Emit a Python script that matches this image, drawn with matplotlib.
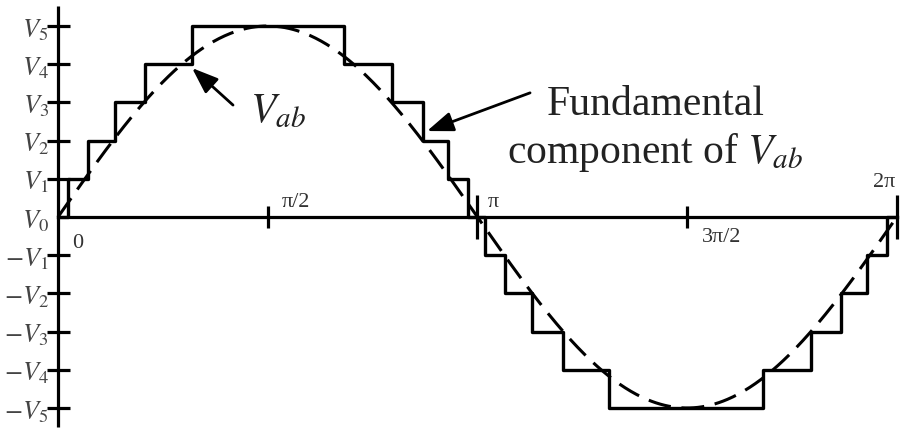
import numpy as np
import matplotlib
matplotlib.use("Agg")
import matplotlib.pyplot as plt

plt.rcParams['font.family'] = ['Liberation Serif', 'DejaVu Serif']
plt.rcParams['mathtext.fontset'] = 'stix'

edges = [0.075, 0.225, 0.427, 0.652, 1.004,
         2.142, 2.502, 2.734, 2.921, 3.071,
         3.199, 3.348, 3.551, 3.783, 4.127,
         5.281, 5.640, 5.865, 6.060, 6.210]
levels = [1, 2, 3, 4, 5,
          4, 3, 2, 1, 0,
          -1, -2, -3, -4, -5,
          -4, -3, -2, -1, 0]

fund_amp = 5.0  # peak of dashed fundamental, in V1 units

ylevels = [5, 4, 3, 2, 1, 0, -1, -2, -3, -4, -5]
ylabels = [r'$V_{\mathit{5}}$', r'$V_{\mathit{4}}$', r'$V_{\mathit{3}}$', r'$V_{\mathit{2}}$',
           r'$V_{\mathit{1}}$', r'$V_{\mathit{0}}$', r'$-V_{\mathit{1}}$', r'$-V_{\mathit{2}}$',
           r'$-V_{\mathit{3}}$', r'$-V_{\mathit{4}}$', r'$-V_{\mathit{5}}$']

xticks = [np.pi / 2, np.pi, 3 * np.pi / 2, 2 * np.pi]
xtick_half = [0.3, 0.58, 0.3, 0.58]

# pixel scale of the reference: 0 rad at x=58px, 133.5 px/rad, level 0 at y=217px, 38.2 px/level
PX_RAD = 133.5
PX_LEV = 38.2

fig = plt.figure(figsize=(9.02, 4.30), dpi=100)
ax = fig.add_axes([0, 0, 1, 1])
ax.axis('off')
ax.set_xlim(-58 / PX_RAD, (902 - 58) / PX_RAD)
ax.set_ylim((217 - 430) / PX_LEV, 217 / PX_LEV)

lw = 2.3
# axes
ax.plot([0, 2 * np.pi], [0, 0], color='black', lw=lw, solid_capstyle='butt')
ax.plot([0, 0], [-5.50, 5.52], color='black', lw=lw, solid_capstyle='butt')
for lv in ylevels:
    if lv != 0:
        ax.plot([-0.082, 0.09], [lv, lv], color='black', lw=lw, solid_capstyle='butt')
for xt, h in zip(xticks, xtick_half):
    ax.plot([xt, xt], [-h, h], color='black', lw=lw, solid_capstyle='butt')

# staircase Vab
sx = [0] + edges + [2 * np.pi]
sy = [0] + levels + [0]
ax.step(sx, sy, where='post', color='black', lw=2.4)

# fundamental component
th = np.linspace(0, 2 * np.pi, 600)
ax.plot(th, fund_amp * np.sin(th), color='black', lw=2.2, dashes=(7.5, 3.5))

# y labels
for lv, lab in zip(ylevels, ylabels):
    ax.text(-0.07, lv - 0.1, lab, ha='right', va='center', fontsize=19, color='#444444')

# x labels
tc = '#333333'
ax.text(0.105, -0.81, '0', ha='left', va='baseline', fontsize=16, color=tc)
ax.text(1.678, 0.26, 'π/2', ha='left', va='baseline', fontsize=16, color=tc)
ax.text(3.221, 0.26, 'π', ha='left', va='baseline', fontsize=16, color=tc)
ax.text(4.824, -0.654, '3π/2', ha='left', va='baseline', fontsize=16, color=tc)
ax.text(6.105, 0.785, '2π', ha='left', va='baseline', fontsize=16, color=tc)

# annotations
arrow = dict(arrowstyle='-|>,head_length=0.8,head_width=0.3',
             color='black', lw=2, mutation_scale=20, shrinkA=0, shrinkB=0)
ax.text(1.438, 2.487, r'$V_{ab}$', ha='left', va='baseline', fontsize=30, color='#222222')
ax.annotate('', xy=(1.004, 3.90), xytext=(1.311, 2.93), arrowprops=arrow)
ax.text(4.479, 2.670, 'Fundamental', ha='center', va='baseline', fontsize=30, color='#222222')
ax.text(4.472, 1.414, r'component of $V_{ab}$', ha='center', va='baseline',
        fontsize=30, color='#222222')
ax.annotate('', xy=(2.764, 2.25), xytext=(3.536, 3.25), arrowprops=arrow)

fig.savefig('out.png', dpi=100)
